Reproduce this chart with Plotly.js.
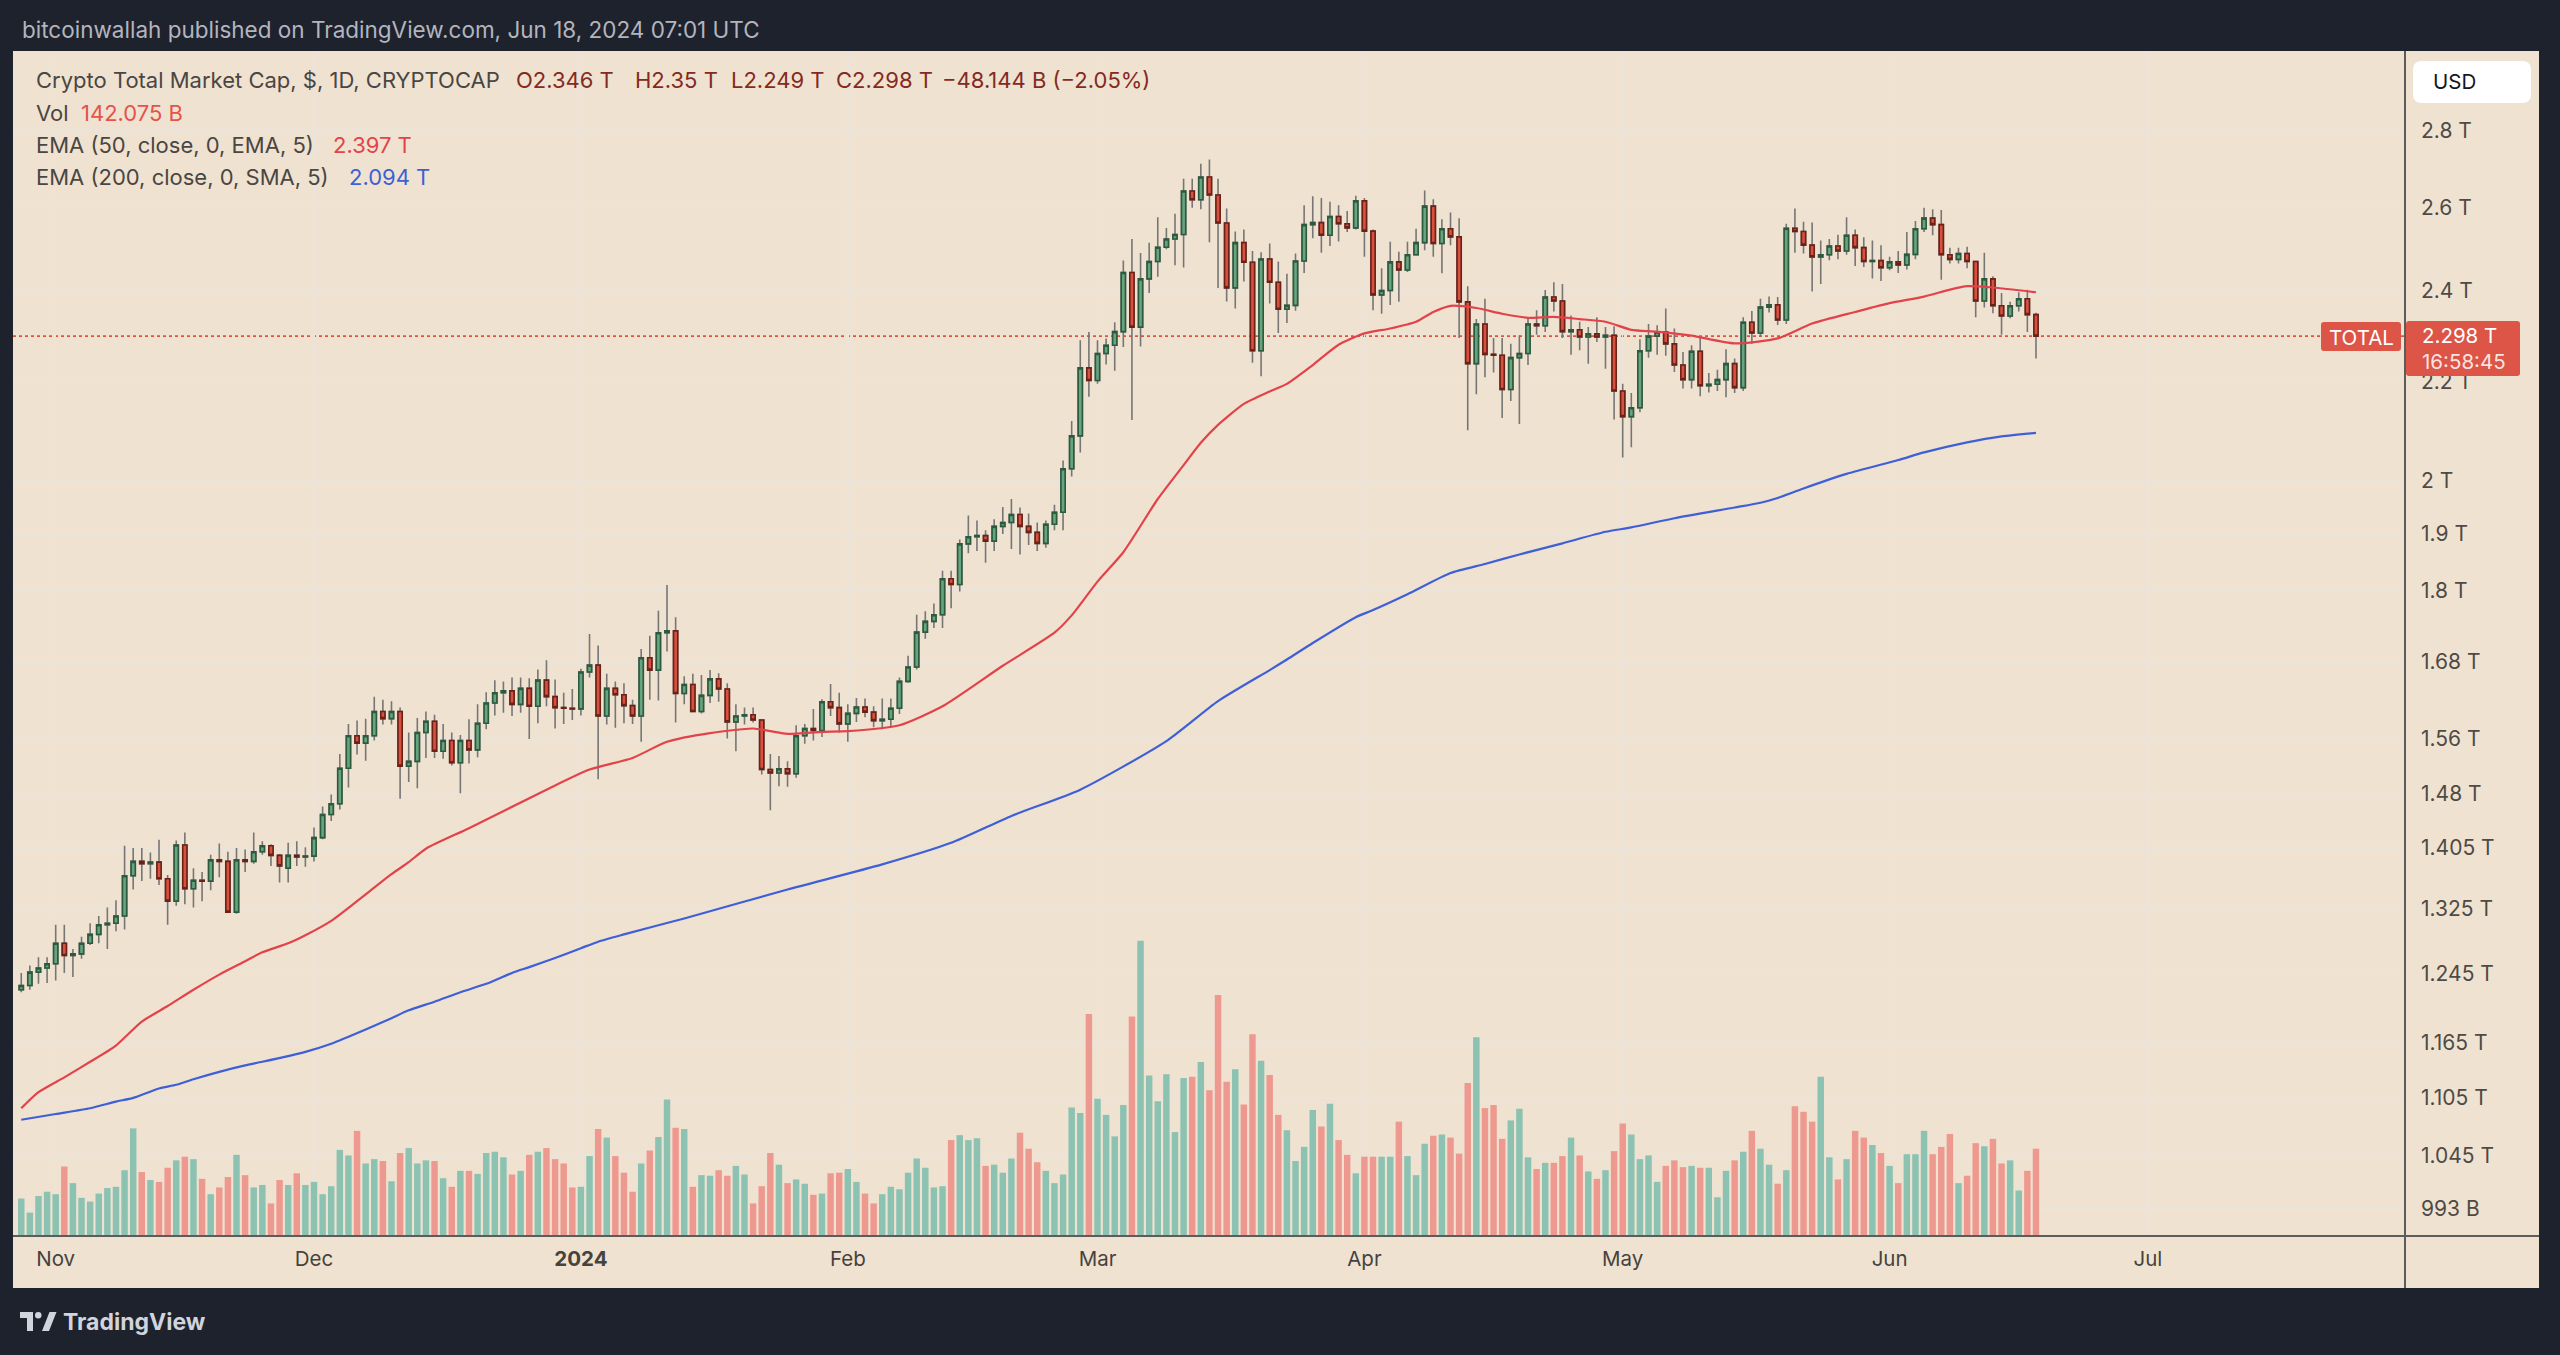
<!DOCTYPE html>
<html><head><meta charset="utf-8">
<script src="https://cdn.plot.ly/plotly-3.0.1.min.js"></script>
<style>html,body{margin:0;padding:0;background:#1e222d;overflow:hidden}#chart{width:2560px;height:1355px}</style>
</head><body><div id="chart"></div>
<script>
// ---------- DATA ----------
const firstDate = '2023-10-28'; // daily candles, consecutive days to 2024-06-18

const openT = [
1.226,1.231,1.247,1.252,1.257,1.282,1.267,1.269,1.282,1.293,
1.305,1.307,1.316,1.368,1.387,1.384,1.386,1.364,1.335,1.409,
1.351,1.362,1.361,1.389,1.387,1.321,1.389,1.387,1.400,1.408,
1.395,1.378,1.395,1.393,1.394,1.419,1.451,1.466,1.517,1.565,
1.554,1.565,1.602,1.591,1.602,1.520,1.527,1.570,1.587,1.542,
1.558,1.525,1.558,1.544,1.584,1.615,1.631,1.634,1.613,1.638,
1.610,1.651,1.625,1.608,1.607,1.606,1.664,1.675,1.595,1.638,
1.628,1.611,1.595,1.687,1.667,1.728,1.731,1.630,1.644,1.602,
1.627,1.653,1.637,1.586,1.595,1.597,1.589,1.515,1.510,1.516,
1.509,1.565,1.576,1.573,1.617,1.608,1.583,1.599,1.609,1.601,
1.588,1.590,1.607,1.649,1.672,1.729,1.747,1.758,1.820,1.810,
1.882,1.895,1.897,1.887,1.914,1.921,1.936,1.914,1.903,1.883,
1.918,1.940,2.023,2.088,2.229,2.202,2.260,2.278,2.308,2.443,
2.318,2.428,2.469,2.503,2.523,2.534,2.642,2.620,2.678,2.632,
2.562,2.407,2.514,2.467,2.266,2.475,2.420,2.358,2.367,2.470,
2.558,2.563,2.532,2.578,2.560,2.550,2.617,2.542,2.391,2.401,
2.468,2.449,2.485,2.514,2.604,2.512,2.548,2.528,2.375,2.238,
2.325,2.258,2.256,2.183,2.251,2.260,2.325,2.321,2.386,2.377,
2.308,2.312,2.296,2.303,2.296,2.300,2.180,2.127,2.145,2.266,
2.298,2.307,2.281,2.235,2.204,2.265,2.191,2.194,2.204,2.238,
2.187,2.329,2.305,2.363,2.368,2.334,2.549,2.541,2.508,2.480,
2.485,2.506,2.494,2.532,2.502,2.469,2.471,2.454,2.468,2.461,
2.486,2.548,2.574,2.558,2.485,2.474,2.488,2.469,2.377,2.428,
2.366,2.343,2.366,2.382,2.346];

const highT = [
1.246,1.255,1.265,1.265,1.305,1.305,1.275,1.290,1.307,1.316,
1.327,1.336,1.408,1.405,1.405,1.399,1.416,1.369,1.415,1.426,
1.378,1.373,1.396,1.411,1.400,1.405,1.403,1.426,1.414,1.410,
1.397,1.412,1.414,1.406,1.433,1.462,1.479,1.538,1.583,1.588,
1.591,1.625,1.620,1.618,1.608,1.570,1.592,1.602,1.597,1.583,
1.570,1.566,1.590,1.613,1.632,1.651,1.649,1.655,1.655,1.654,
1.668,1.683,1.652,1.631,1.637,1.669,1.726,1.707,1.661,1.649,
1.646,1.620,1.701,1.723,1.765,1.809,1.754,1.657,1.661,1.659,
1.667,1.662,1.646,1.613,1.608,1.608,1.590,1.538,1.535,1.527,
1.581,1.583,1.606,1.621,1.645,1.631,1.613,1.623,1.622,1.610,
1.622,1.622,1.655,1.690,1.758,1.764,1.777,1.834,1.834,1.890,
1.934,1.925,1.907,1.927,1.950,1.965,1.949,1.938,1.921,1.925,
1.954,2.039,2.118,2.289,2.307,2.289,2.293,2.329,2.471,2.523,
2.489,2.514,2.576,2.550,2.585,2.673,2.673,2.712,2.723,2.673,
2.598,2.541,2.546,2.494,2.491,2.512,2.469,2.440,2.488,2.606,
2.629,2.624,2.615,2.606,2.592,2.630,2.624,2.546,2.453,2.516,
2.492,2.516,2.548,2.643,2.621,2.571,2.588,2.574,2.411,2.336,
2.382,2.294,2.294,2.281,2.300,2.340,2.356,2.402,2.420,2.416,
2.344,2.330,2.318,2.340,2.318,2.320,2.195,2.176,2.291,2.325,
2.322,2.360,2.315,2.263,2.278,2.296,2.218,2.225,2.269,2.249,
2.340,2.354,2.382,2.387,2.386,2.560,2.598,2.565,2.563,2.519,
2.523,2.533,2.576,2.546,2.527,2.519,2.508,2.480,2.494,2.540,
2.567,2.600,2.596,2.594,2.502,2.502,2.504,2.470,2.490,2.434,
2.395,2.375,2.397,2.403,2.350];

const lowT = [
1.223,1.226,1.233,1.234,1.237,1.246,1.241,1.263,1.280,1.282,
1.275,1.297,1.299,1.350,1.361,1.364,1.356,1.305,1.329,1.331,
1.327,1.335,1.349,1.366,1.320,1.319,1.373,1.384,1.396,1.381,
1.359,1.359,1.381,1.380,1.387,1.417,1.442,1.458,1.489,1.537,
1.528,1.558,1.582,1.582,1.473,1.497,1.488,1.532,1.532,1.531,
1.521,1.481,1.524,1.533,1.575,1.596,1.600,1.595,1.600,1.560,
1.584,1.610,1.576,1.583,1.589,1.596,1.655,1.501,1.582,1.577,
1.584,1.583,1.556,1.620,1.619,1.697,1.585,1.613,1.601,1.599,
1.615,1.617,1.561,1.542,1.582,1.585,1.508,1.457,1.491,1.490,
1.503,1.553,1.558,1.563,1.595,1.570,1.556,1.586,1.593,1.578,
1.575,1.578,1.598,1.647,1.668,1.718,1.736,1.736,1.769,1.798,
1.865,1.869,1.848,1.869,1.900,1.873,1.863,1.880,1.869,1.875,
1.907,1.907,2.008,2.055,2.168,2.195,2.236,2.223,2.274,2.120,
2.275,2.395,2.433,2.498,2.460,2.455,2.600,2.596,2.515,2.407,
2.376,2.360,2.422,2.240,2.211,2.371,2.305,2.327,2.355,2.442,
2.525,2.490,2.506,2.517,2.540,2.546,2.480,2.356,2.348,2.368,
2.375,2.444,2.483,2.496,2.480,2.441,2.508,2.294,2.099,2.173,
2.209,2.219,2.124,2.159,2.112,2.235,2.301,2.307,2.353,2.294,
2.257,2.267,2.238,2.285,2.227,2.121,2.045,2.065,2.136,2.251,
2.257,2.255,2.220,2.185,2.185,2.169,2.177,2.180,2.167,2.176,
2.180,2.281,2.298,2.351,2.323,2.325,2.490,2.488,2.399,2.416,
2.472,2.474,2.485,2.458,2.456,2.429,2.423,2.448,2.442,2.450,
2.474,2.540,2.532,2.426,2.464,2.464,2.453,2.340,2.362,2.349,
2.301,2.338,2.353,2.307,2.249];

const closeT = [
1.231,1.247,1.252,1.257,1.282,1.267,1.269,1.282,1.293,1.305,
1.307,1.316,1.368,1.387,1.384,1.386,1.364,1.335,1.409,1.351,
1.362,1.361,1.389,1.387,1.321,1.389,1.387,1.400,1.408,1.395,
1.381,1.395,1.393,1.394,1.419,1.451,1.466,1.517,1.565,1.554,
1.565,1.602,1.591,1.602,1.520,1.527,1.570,1.587,1.542,1.558,
1.525,1.558,1.544,1.584,1.615,1.631,1.634,1.613,1.638,1.610,
1.651,1.625,1.608,1.607,1.606,1.664,1.675,1.595,1.638,1.628,
1.611,1.595,1.687,1.667,1.728,1.731,1.630,1.644,1.602,1.627,
1.653,1.637,1.586,1.595,1.597,1.589,1.515,1.510,1.516,1.509,
1.565,1.576,1.573,1.617,1.608,1.583,1.599,1.609,1.601,1.588,
1.590,1.607,1.649,1.672,1.729,1.747,1.758,1.820,1.810,1.882,
1.895,1.897,1.887,1.914,1.921,1.936,1.914,1.903,1.883,1.918,
1.940,2.023,2.088,2.229,2.202,2.260,2.278,2.308,2.443,2.318,
2.428,2.469,2.503,2.523,2.534,2.642,2.620,2.678,2.632,2.562,
2.407,2.514,2.467,2.266,2.475,2.420,2.358,2.367,2.470,2.558,
2.563,2.532,2.578,2.560,2.550,2.617,2.542,2.391,2.401,2.468,
2.449,2.485,2.514,2.604,2.512,2.548,2.528,2.375,2.238,2.325,
2.258,2.256,2.183,2.251,2.260,2.325,2.321,2.386,2.377,2.308,
2.312,2.296,2.303,2.296,2.300,2.180,2.127,2.145,2.266,2.298,
2.307,2.281,2.235,2.204,2.265,2.191,2.194,2.204,2.238,2.187,
2.329,2.305,2.363,2.368,2.334,2.549,2.541,2.508,2.480,2.485,
2.506,2.494,2.532,2.502,2.469,2.471,2.454,2.468,2.461,2.486,
2.548,2.574,2.558,2.485,2.474,2.488,2.469,2.377,2.428,2.366,
2.343,2.366,2.382,2.346,2.298];

const volumeB = [
61,38,65,72,68,113,86,62,56,69,
78,80,107,175,104,91,88,111,123,129,
125,93,68,79,96,132,99,79,83,53,
91,83,102,83,88,68,81,140,131,171,
118,125,122,89,135,143,118,123,122,94,
80,106,106,101,135,137,128,100,106,132,
137,143,125,118,79,80,130,174,160,130,
103,72,118,139,161,222,176,174,80,99,
98,107,98,114,100,53,81,135,116,86,
92,85,67,69,102,103,109,88,69,53,
68,80,76,103,126,111,79,81,156,164,
156,159,114,116,103,126,168,142,120,106,
86,100,209,200,361,223,197,162,213,357,
480,261,219,263,169,257,259,283,237,392,
251,271,214,328,285,262,197,172,122,145,
205,178,215,156,132,102,129,129,129,129,
186,130,99,150,163,165,160,134,249,323,
208,213,158,188,207,128,109,119,119,130,
160,131,105,93,107,138,183,165,125,131,
88,114,123,112,114,111,111,63,106,123,
137,171,142,116,85,107,211,202,186,259,
128,92,125,171,160,148,135,114,86,133,
133,171,133,145,166,86,98,151,146,158,
118,123,74,106,142];

const ema50Dates = ['2023-10-28','2023-10-30','2023-11-02','2023-11-05','2023-11-08','2023-11-11','2023-11-14','2023-11-17','2023-11-20','2023-11-23','2023-11-25','2023-11-28','2023-11-30',
'2023-12-03','2023-12-06','2023-12-10','2023-12-12','2023-12-14','2023-12-19','2023-12-28','2024-01-02','2024-01-07','2024-01-11','2024-01-16','2024-01-21','2024-01-23','2024-01-25','2024-01-29',
'2024-02-01','2024-02-07','2024-02-12','2024-02-19','2024-02-25','2024-02-27','2024-03-01','2024-03-04','2024-03-08','2024-03-11','2024-03-13','2024-03-15','2024-03-18','2024-03-21','2024-03-23','2024-03-26','2024-03-29',
'2024-04-01','2024-04-04','2024-04-07','2024-04-09','2024-04-11','2024-04-14','2024-04-17','2024-04-20','2024-04-23','2024-04-26','2024-04-29','2024-05-02','2024-05-05','2024-05-09','2024-05-14','2024-05-19',
'2024-05-23','2024-05-28','2024-06-01','2024-06-05','2024-06-08','2024-06-10','2024-06-13','2024-06-18'];
const ema50T = [1.094,1.111,1.127,1.144,1.162,1.189,1.207,1.226,1.244,1.260,1.271,1.282,1.292,
1.310,1.335,1.370,1.386,1.404,1.432,1.486,1.515,1.532,1.556,1.569,1.576,1.572,1.568,1.571,
1.572,1.581,1.610,1.674,1.728,1.757,1.815,1.867,1.965,2.030,2.074,2.110,2.153,2.179,2.195,2.235,2.279,
2.304,2.315,2.330,2.352,2.366,2.361,2.348,2.339,2.341,2.336,2.330,2.312,2.308,2.299,2.282,2.293,
2.326,2.352,2.372,2.387,2.403,2.411,2.408,2.397];

const ema200Dates = ['2023-10-28','2023-11-01','2023-11-05','2023-11-08','2023-11-10','2023-11-13','2023-11-15','2023-11-17','2023-11-20','2023-11-23','2023-11-25','2023-11-30',
'2023-12-03','2023-12-07','2023-12-10','2023-12-12','2023-12-15','2023-12-18','2023-12-21','2023-12-24','2023-12-26','2023-12-29','2024-01-01','2024-01-03','2024-01-06','2024-01-13','2024-01-25',
'2024-02-05','2024-02-13','2024-02-20','2024-02-28','2024-03-09','2024-03-15','2024-03-21','2024-03-23','2024-03-26','2024-03-31','2024-04-02','2024-04-06','2024-04-11','2024-04-15','2024-04-19','2024-04-24','2024-04-29',
'2024-05-02','2024-05-07','2024-05-14','2024-05-17','2024-05-19','2024-05-22','2024-05-27','2024-06-02','2024-06-05','2024-06-10','2024-06-14','2024-06-18'];
const ema200T = [1.082,1.088,1.094,1.101,1.105,1.115,1.119,1.125,1.133,1.140,1.144,1.155,
1.164,1.180,1.193,1.202,1.212,1.223,1.233,1.246,1.253,1.264,1.276,1.284,1.293,1.313,1.350,
1.383,1.412,1.449,1.486,1.557,1.618,1.667,1.684,1.711,1.754,1.766,1.793,1.830,1.846,1.863,1.883,1.904,
1.912,1.929,1.949,1.958,1.967,1.985,2.013,2.040,2.055,2.075,2.087,2.094];

const monthTicks = ['2023-11-01','2023-12-01','2024-01-01','2024-02-01','2024-03-01','2024-04-01','2024-05-01','2024-06-01','2024-07-01'];
const monthLabels = ['Nov','Dec','<b>2024</b>','Feb','Mar','Apr','May','Jun','Jul'];
const priceTicks = [0.993,1.045,1.105,1.165,1.245,1.325,1.405,1.48,1.56,1.68,1.8,1.9,2,2.2,2.4,2.6,2.8];
const priceTickLabels = ['993 B','1.045 T','1.105 T','1.165 T','1.245 T','1.325 T','1.405 T','1.48 T','1.56 T','1.68 T','1.8 T','1.9 T','2 T','2.2 T','2.4 T','2.6 T','2.8 T'];
const lastPrice = 2.298;

// ---------- BUILD ----------
const dates = openT.map((_, i) => new Date(Date.parse(firstDate + 'T00:00:00Z') + i * 86400000).toISOString().slice(0, 10));
const isUp = openT.map((o, i) => closeT[i] >= o);
const bodyHigh = openT.map((o, i) => Math.max(o, closeT[i]));
const bodyLow = openT.map((o, i) => Math.min(o, closeT[i]));

const FONT = 'Inter, Roboto, "Noto Sans", sans-serif';
const L = 13, T = 51, W = 2392, H = 1185;
const px = x => (x - L) / W;
const py = y => 1 - (y - T) / H;
function rr(x0, y0, x1, y1, r) {
  const X = px, Y = py;
  return `M${X(x0 + r)},${Y(y0)} L${X(x1 - r)},${Y(y0)} Q${X(x1)},${Y(y0)} ${X(x1)},${Y(y0 + r)} L${X(x1)},${Y(y1 - r)} Q${X(x1)},${Y(y1)} ${X(x1 - r)},${Y(y1)} L${X(x0 + r)},${Y(y1)} Q${X(x0)},${Y(y1)} ${X(x0)},${Y(y1 - r)} L${X(x0)},${Y(y0 + r)} Q${X(x0)},${Y(y0)} ${X(x0 + r)},${Y(y0)} Z`;
}
function ann(x, y, text, color, size, extra) {
  return Object.assign({xref: 'paper', yref: 'paper', x: px(x), y: py(y), text: text, showarrow: false,
    xanchor: 'left', yanchor: 'middle', font: {family: FONT, size: size, color: color}}, extra || {});
}

const traces = [
  {type: 'bar', x: dates, y: volumeB, yaxis: 'y', hoverinfo: 'skip',
   marker: {color: isUp.map(u => u ? '#8cc2b2' : '#ee998f'), line: {width: 0}}},
  {type: 'scatter', mode: 'lines', x: ema200Dates, y: ema200T, yaxis: 'y2', hoverinfo: 'skip',
   line: {color: '#3e5fd6', width: 2.2, shape: 'spline', smoothing: 0.6}},
  {type: 'scatter', mode: 'lines', x: ema50Dates, y: ema50T, yaxis: 'y2', hoverinfo: 'skip',
   line: {color: '#e2434b', width: 2.2, shape: 'spline', smoothing: 0.6}},
  {type: 'candlestick', x: dates, open: openT, high: highT, low: lowT, close: closeT, yaxis: 'y2', hoverinfo: 'skip',
   increasing: {line: {color: '#767676', width: 1.6}, fillcolor: '#767676'},
   decreasing: {line: {color: '#767676', width: 1.6}, fillcolor: '#767676'}},
  {type: 'candlestick', x: dates, open: openT, high: bodyHigh, low: bodyLow, close: closeT, yaxis: 'y2', hoverinfo: 'skip',
   increasing: {line: {color: '#2c5a3e', width: 1.6}, fillcolor: '#67a480'},
   decreasing: {line: {color: '#6a2117', width: 1.6}, fillcolor: '#d9503f'}}
];

const shapes = [
  {type: 'rect', xref: 'paper', yref: 'paper', x0: px(13), x1: px(2539), y0: py(51), y1: py(1288),
   fillcolor: '#f0e2d0', line: {width: 0}, layer: 'below'},
  {type: 'line', xref: 'paper', x0: 0, x1: 1, yref: 'y2', y0: lastPrice, y1: lastPrice,
   line: {color: '#e0533f', width: 1.6, dash: 'dot'}, layer: 'below'},
  {type: 'line', xref: 'paper', yref: 'paper', x0: px(13), x1: px(2539), y0: py(1236), y1: py(1236),
   line: {color: '#5c5c5c', width: 2}, layer: 'above'},
  {type: 'line', xref: 'paper', yref: 'paper', x0: px(2405), x1: px(2405), y0: py(51), y1: py(1288),
   line: {color: '#5c5c5c', width: 2}, layer: 'above'},
  {type: 'path', xref: 'paper', yref: 'paper', path: rr(2413, 61, 2531, 103, 9), fillcolor: '#ffffff', line: {width: 0}, layer: 'above'},
  {type: 'path', xref: 'paper', yref: 'paper', path: rr(2321, 322, 2401, 351, 3), fillcolor: '#dc5546', line: {width: 0}, layer: 'above'},
  {type: 'path', xref: 'paper', yref: 'paper', path: rr(2406, 321, 2520, 376, 3), fillcolor: '#dc5546', line: {width: 0}, layer: 'above'},
  // TradingView logo
  {type: 'path', xref: 'paper', yref: 'paper', path: `M${px(20)},${py(1312)} L${px(33)},${py(1312)} L${px(33)},${py(1331)} L${px(27)},${py(1331)} L${px(27)},${py(1318)} L${px(20)},${py(1318)} Z`,
   fillcolor: '#d1d4dc', line: {width: 0}, layer: 'above'},
  {type: 'circle', xref: 'paper', yref: 'paper', x0: px(35), x1: px(41.5), y0: py(1312), y1: py(1318.5),
   fillcolor: '#d1d4dc', line: {width: 0}, layer: 'above'},
  {type: 'path', xref: 'paper', yref: 'paper', path: `M${px(42)},${py(1331)} L${px(49.5)},${py(1312)} L${px(56.5)},${py(1312)} L${px(49)},${py(1331)} Z`,
   fillcolor: '#d1d4dc', line: {width: 0}, layer: 'above'}
];

const GRAY = '#4a4643', MAROON = '#842a22';
const LS = 22;
const annotations = [
  ann(20, 30, 'bitcoinwallah published on TradingView.com, Jun 18, 2024 07:01 UTC', '#b2b5be', 22.5),
  ann(34, 80, 'Crypto Total Market Cap, $, 1D, CRYPTOCAP', GRAY, LS),
  ann(514, 80, 'O2.346 T', MAROON, LS),
  ann(633, 80, 'H2.35 T', MAROON, LS),
  ann(729, 80, 'L2.249 T', MAROON, LS),
  ann(834, 80, 'C2.298 T', MAROON, LS),
  ann(940, 80, '−48.144 B (−2.05%)', MAROON, LS),
  ann(34, 113, 'Vol', GRAY, LS),
  ann(79, 113, '142.075 B', '#e5534b', LS),
  ann(34, 145, 'EMA (50, close, 0, EMA, 5)', GRAY, LS),
  ann(331, 145, '2.397 T', '#e5434b', LS),
  ann(34, 177, 'EMA (200, close, 0, SMA, 5)', GRAY, LS),
  ann(347, 177, '2.094 T', '#3e5fd6', LS),
  ann(2431, 82, 'USD', '#131722', 20.5),
  ann(2361, 337, 'TOTAL', '#ffffff', 20.5, {xanchor: 'center'}),
  ann(2420, 336, '2.298 T', '#ffffff', 20.5),
  ann(2420, 361, '16:58:45', 'rgba(255,255,255,0.85)', 20.5),
  ann(61, 1322, '<b>TradingView</b>', '#d1d4dc', 23)
];

const layout = {
  width: 2560, height: 1355,
  margin: {l: L, r: 2560 - L - W, t: T, b: 1355 - T - H, autoexpand: false},
  paper_bgcolor: '#1e222d', plot_bgcolor: '#f0e2d0',
  showlegend: false, bargap: 0.25, boxmode: 'overlay',
  xaxis: {type: 'date', range: ['2023-10-27 00:58', '2024-07-30 20:38'],
    rangeslider: {visible: false}, tickvals: monthTicks, ticktext: monthLabels,
    showgrid: true, gridcolor: '#ebe4dc', gridwidth: 1.4, ticks: '', ticklabelstandoff: 8,
    showline: false, zeroline: false, fixedrange: true,
    tickfont: {family: FONT, size: 20.5, color: '#46423e'}},
  yaxis: {range: [0, 1927], visible: false, showgrid: false, zeroline: false, fixedrange: true},
  yaxis2: {type: 'log', overlaying: 'y', side: 'right', range: [Math.log10(0.9676), Math.log10(3.0226)],
    tickvals: priceTicks, ticktext: priceTickLabels, showgrid: true, gridcolor: '#ebe4dc', gridwidth: 1.4,
    ticks: '', ticklabelstandoff: 15, showline: false, zeroline: false, fixedrange: true,
    tickfont: {family: FONT, size: 21, color: '#4e4a46'}},
  shapes: shapes, annotations: annotations
};

Plotly.newPlot('chart', traces, layout, {staticPlot: true, displayModeBar: false});
</script></body></html>
